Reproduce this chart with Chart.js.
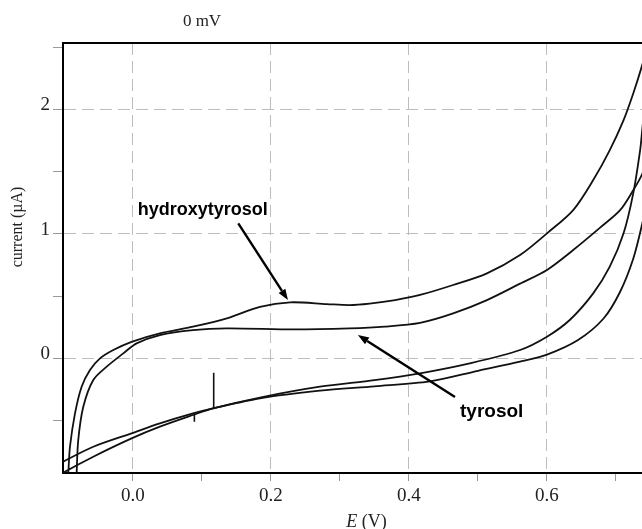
<!DOCTYPE html>
<html>
<head>
<meta charset="utf-8">
<script src="https://cdn.jsdelivr.net/npm/chart.js@4/dist/chart.umd.min.js"></script>
<style>
  html, body { margin: 0; padding: 0; background: #fff; }
  canvas { display: block; }
</style>
</head>
<body>
<canvas id="cv" width="642" height="529"></canvas>
<script>
// cyclic voltammograms, potential E (V) vs current (uA)
// hydroxytyrosol: forward scan then reverse scan
const hydroxyFwdE = [-0.095, -0.0937, -0.0913, -0.084, -0.0744, -0.0623, -0.0478, -0.0285, -0.002, 0.039, 0.087, 0.136, 0.184, 0.228, 0.281, 0.314, 0.343, 0.38, 0.416, 0.464, 0.513, 0.561, 0.6, 0.638, 0.667, 0.691, 0.711, 0.725, 0.738, 0.75];
const hydroxyFwdI = [-1.0, -0.918, -0.71, -0.442, -0.228, -0.094, 0.0, 0.067, 0.133, 0.201, 0.254, 0.321, 0.414, 0.45, 0.436, 0.428, 0.44, 0.468, 0.509, 0.589, 0.683, 0.83, 1.004, 1.191, 1.432, 1.673, 1.914, 2.128, 2.356, 2.6];
const hydroxyRevE = [0.75, 0.738, 0.735, 0.725, 0.711, 0.691, 0.667, 0.633, 0.6, 0.561, 0.488, 0.416, 0.35, 0.271, 0.184, 0.116, 0.087, 0.039, -0.002, -0.0575, -0.101, -0.106];
const hydroxyRevI = [2.5, 1.834, 1.673, 1.325, 1.004, 0.736, 0.522, 0.308, 0.174, 0.067, -0.04, -0.12, -0.175, -0.228, -0.315, -0.402, -0.455, -0.549, -0.643, -0.79, -0.918, -0.94];

// tyrosol: forward scan then reverse scan
const tyrosolFwdE = [-0.082, -0.0816, -0.0793, -0.072, -0.0575, -0.0381, -0.014, 0.0053, 0.039, 0.087, 0.136, 0.232, 0.314, 0.365, 0.416, 0.464, 0.513, 0.561, 0.6, 0.638, 0.677, 0.706, 0.725, 0.738, 0.75];
const tyrosolFwdI = [-1.0, -0.918, -0.656, -0.389, -0.174, -0.067, 0.04, 0.12, 0.187, 0.227, 0.241, 0.233, 0.241, 0.255, 0.285, 0.361, 0.468, 0.6, 0.71, 0.87, 1.05, 1.19, 1.35, 1.48, 1.65];
const tyrosolRevE = [0.75, 0.738, 0.725, 0.706, 0.682, 0.645, 0.6, 0.561, 0.5, 0.43, 0.35, 0.271, 0.184, 0.116, 0.087, 0.039, -0.002, -0.0575, -0.101, -0.106];
const tyrosolRevI = [1.4, 1.08, 0.8, 0.535, 0.32, 0.147, 0.03, -0.027, -0.1, -0.185, -0.225, -0.26, -0.321, -0.402, -0.442, -0.522, -0.602, -0.71, -0.83, -0.85];

// short noise spikes on the cathodic branch
const spikeE = [0.117, 0.117];
const spikeI = [-0.402, -0.116];
const blipE = [0.089, 0.089];
const blipI = [-0.445, -0.51];

// axis ticks
const xTickValues = [0, 0.1, 0.2, 0.3, 0.4, 0.5, 0.6, 0.7];
const xTickLabels = ['0.0', '', '0.2', '', '0.4', '', '0.6', ''];
const yTickValues = [-0.5, 0, 0.5, 1, 1.5, 2, 2.5];
const yTickLabels = ['', '0', '', '1', '', '2', ''];

const toPoints = (es, is) => es.map((e, i) => ({ x: e, y: is[i] }));

const serif = '"Liberation Serif", "DejaVu Serif", serif';
const sans = '"Liberation Sans", Arial, sans-serif';
const gridGray = '#bdbdbd';
const tickGray = '#9a9a9a';

// text labels and arrows, placed in data units
const notes = [
  { text: 'hydroxytyrosol', x: 0.007, y: 1.191, size: 18 },
  { text: 'tyrosol', x: 0.474, y: -0.431, size: 19 }
];
const arrows = [
  { x1: 0.1526, y1: 1.084, x2: 0.2246, y2: 0.468 },
  { x1: 0.4667, y1: -0.311, x2: 0.326, y2: 0.187 }
];

const decorations = {
  id: 'decorations',
  afterDraw(chart) {
    const { ctx, chartArea: a, scales: { x, y } } = chart;
    ctx.save();
    // top frame line
    ctx.strokeStyle = '#000';
    ctx.lineWidth = 2;
    ctx.beginPath();
    ctx.moveTo(a.left - 1, a.top);
    ctx.lineTo(a.right, a.top);
    ctx.stroke();

    // arrows
    ctx.fillStyle = '#000';
    arrows.forEach(ar => {
      const px1 = x.getPixelForValue(ar.x1), py1 = y.getPixelForValue(ar.y1);
      const px2 = x.getPixelForValue(ar.x2), py2 = y.getPixelForValue(ar.y2);
      const ang = Math.atan2(py2 - py1, px2 - px1);
      const hl = 11, hw = 4;
      const bx = px2 - hl * Math.cos(ang), by = py2 - hl * Math.sin(ang);
      ctx.lineWidth = 2.4;
      ctx.beginPath();
      ctx.moveTo(px1, py1);
      ctx.lineTo(bx, by);
      ctx.stroke();
      ctx.beginPath();
      ctx.moveTo(px2, py2);
      ctx.lineTo(bx + hw * Math.sin(ang), by - hw * Math.cos(ang));
      ctx.lineTo(bx - hw * Math.sin(ang), by + hw * Math.cos(ang));
      ctx.closePath();
      ctx.fill();
    });

    // compound labels
    ctx.textBaseline = 'middle';
    ctx.textAlign = 'left';
    notes.forEach(n => {
      ctx.font = 'bold ' + n.size + 'px ' + sans;
      ctx.fillText(n.text, x.getPixelForValue(n.x), y.getPixelForValue(n.y));
    });

    // title
    ctx.fillStyle = '#222';
    ctx.textAlign = 'center';
    ctx.font = '17px ' + serif;
    ctx.fillText('0 mV', a.left + 139, 22);

    // x axis title with italic E
    const cx = (a.left + a.right) / 2 + 14, cy = 522;
    ctx.font = 'italic 18px ' + serif;
    const wE = ctx.measureText('E').width;
    ctx.font = '18px ' + serif;
    const wRest = ctx.measureText(' (V)').width;
    const start = cx - (wE + wRest) / 2;
    ctx.textAlign = 'left';
    ctx.font = 'italic 18px ' + serif;
    ctx.fillText('E', start, cy);
    ctx.font = '18px ' + serif;
    ctx.fillText(' (V)', start + wE, cy);

    // y axis title
    ctx.translate(18, 227);
    ctx.rotate(-Math.PI / 2);
    ctx.textAlign = 'center';
    ctx.font = '16px ' + serif;
    ctx.fillText('current (\u00B5A)', 0, 0);
    ctx.restore();
  }
};

const lineStyle = {
  borderColor: '#111',
  borderWidth: 1.8,
  pointRadius: 0,
  showLine: true,
  tension: 0.3,
  fill: false
};
const spikeStyle = { ...lineStyle, borderWidth: 1.6, tension: 0 };

new Chart(document.getElementById('cv'), {
  type: 'scatter',
  data: {
    datasets: [
      { label: 'hydroxytyrosol', data: toPoints(hydroxyFwdE.concat(hydroxyRevE), hydroxyFwdI.concat(hydroxyRevI)), ...lineStyle },
      { label: 'tyrosol', data: toPoints(tyrosolFwdE.concat(tyrosolRevE), tyrosolFwdI.concat(tyrosolRevI)), ...lineStyle },
      { label: 'spike', data: toPoints(spikeE, spikeI), ...spikeStyle },
      { label: 'blip', data: toPoints(blipE, blipI), ...spikeStyle }
    ]
  },
  options: {
    responsive: false,
    animation: false,
    layout: { padding: { top: 43, right: 0, bottom: 0, left: 0 } },
    scales: {
      x: {
        type: 'linear',
        min: -0.1014,
        max: 0.7377,
        afterBuildTicks: s => { s.ticks = xTickValues.map(v => ({ value: v })); },
        afterFit: s => { s.height = 56; },
        grid: {
          color: c => xTickLabels[c.index] ? gridGray : 'rgba(0,0,0,0)',
          lineWidth: 1,
          tickColor: tickGray,
          tickLength: 8,
          tickBorderDash: []
        },
        border: { color: '#000', width: 2, dash: [12, 6] },
        ticks: {
          autoSkip: false,
          maxRotation: 0,
          padding: 4,
          color: '#222',
          font: { family: serif, size: 19 },
          callback: (v, i) => xTickLabels[i]
        }
      },
      y: {
        min: -0.921,
        max: 2.533,
        afterBuildTicks: s => { s.ticks = yTickValues.map(v => ({ value: v })); },
        afterFit: s => { s.width = 63; },
        grid: {
          color: c => yTickLabels[c.index] ? gridGray : 'rgba(0,0,0,0)',
          lineWidth: 1,
          tickColor: tickGray,
          tickLength: 10,
          tickBorderDash: []
        },
        border: { color: '#000', width: 2, dash: [12, 6] },
        ticks: {
          autoSkip: false,
          padding: 3,
          labelOffset: -4,
          color: '#222',
          font: { family: serif, size: 19 },
          callback: (v, i) => yTickLabels[i]
        }
      }
    },
    plugins: {
      legend: { display: false },
      tooltip: { enabled: false },
      title: { display: false }
    }
  },
  plugins: [decorations]
});
</script>
</body>
</html>
